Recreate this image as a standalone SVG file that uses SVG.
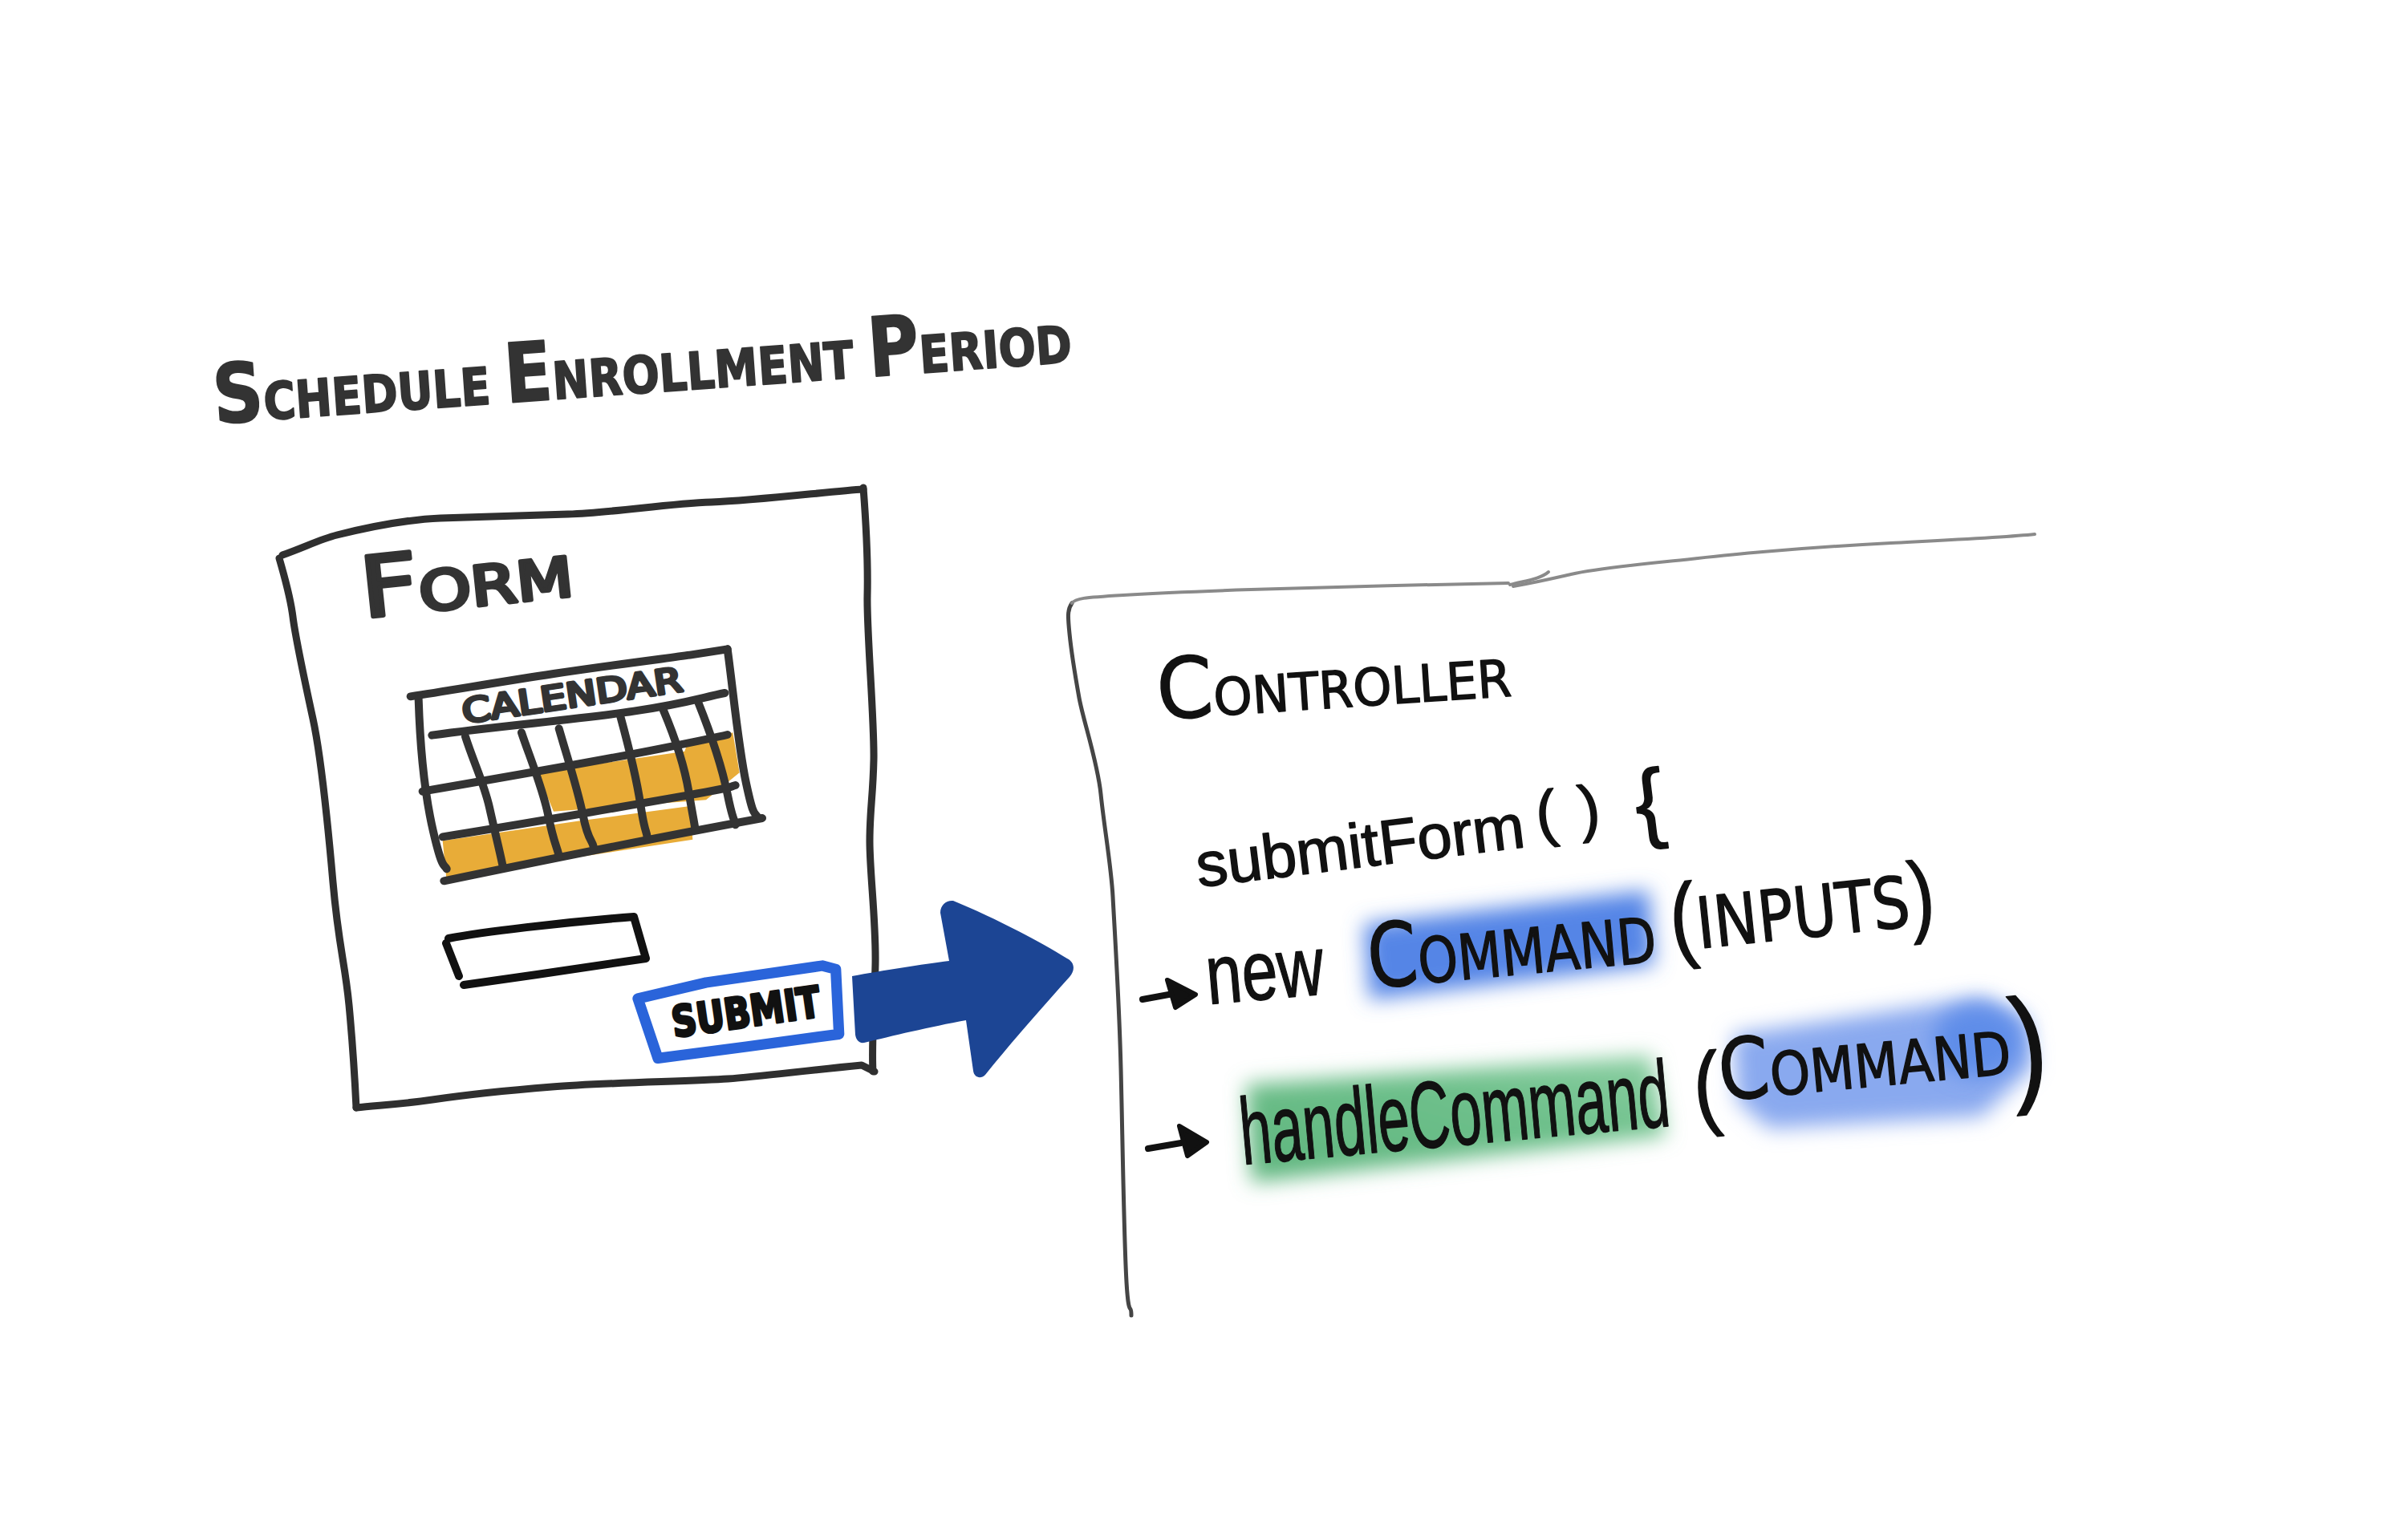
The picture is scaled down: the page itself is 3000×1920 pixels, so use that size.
<svg xmlns="http://www.w3.org/2000/svg" width="3000" height="1920" viewBox="0 0 3000 1920">
  <style>
    .ink { fill: none; stroke: #2f2f2f; stroke-width: 9; stroke-linecap: round; stroke-linejoin: round; }
    .blk { fill: none; stroke: #111; stroke-width: 10; stroke-linecap: round; stroke-linejoin: round; }
    .cal { fill: none; stroke: #333; stroke-width: 30; stroke-linecap: round; stroke-linejoin: round; }
    .pencil { fill: none; stroke: #8a8a8a; stroke-width: 4; stroke-linecap: round; stroke-linejoin: round; }
    .edge { fill: none; stroke: #454545; stroke-width: 5; stroke-linecap: round; stroke-linejoin: round; }
    .caps { font-family: "DejaVu Sans", "Liberation Sans", sans-serif; font-weight: 700; fill: #333; stroke: #333; stroke-width: 2; stroke-linejoin: round; }
    .pen { font-family: "DejaVu Sans", "Liberation Sans", sans-serif; font-weight: 400; fill: #111; stroke: #111; stroke-width: 1.5; stroke-linejoin: round; }
    .hand { font-family: "Liberation Sans", Arial, sans-serif; font-weight: 400; fill: #111; stroke: #111; stroke-width: 1.5; stroke-linejoin: round; }
    .paren { font-family: "Liberation Sans", Arial, sans-serif; font-weight: 400; }
    .orange { fill: #e8ac38; }
    .glow { filter: url(#soft); }
  </style>
  <defs>
    <filter id="soft" x="-30%" y="-60%" width="160%" height="220%">
      <feGaussianBlur stdDeviation="13"/>
    </filter>
    <linearGradient id="greenFill" x1="0" y1="1" x2="1" y2="0">
      <stop offset="0" stop-color="#5fb57e"/>
      <stop offset="0.6" stop-color="#6ec08b"/>
      <stop offset="1" stop-color="#8ccfa3"/>
    </linearGradient>
  </defs>

  <rect x="0" y="0" width="3000" height="1920" fill="#ffffff"/>

  <!-- heading -->
  <g id="title">
    <text class="caps" font-size="64" transform="translate(268,528) rotate(-4.1)" textLength="1072" lengthAdjust="spacingAndGlyphs"><tspan font-size="102">S</tspan>CHEDULE <tspan font-size="102">E</tspan>NROLLMENT <tspan font-size="102">P</tspan>ERIOD</text>
  </g>

  <!-- form sketch -->
  <g id="form">
    <path class="ink" d="M352,692 C380,682 400,672 420,667 S500,648 549,646 S650,643 708,641 S830,628 887,626 S1040,612 1076,610"/>
    <path class="ink" d="M1076,608 C1080,660 1082,700 1081,743 S1090,900 1089,947 S1084,1010 1084,1049 S1092,1150 1091,1202 S1086,1300 1088,1336"/>
    <path class="ink" d="M1090,1336 L1074,1328 C1000,1335 950,1342 907,1345 S750,1350 688,1355 S580,1365 539,1371 S470,1378 444,1381"/>
    <path class="ink" d="M348,696 C355,720 362,745 365,769 S380,850 390,896 S408,1020 415,1100 S430,1200 435,1253 S442,1340 444,1381"/>
    <text class="caps" font-size="68" transform="translate(453,770) rotate(-6)" textLength="265" lengthAdjust="spacingAndGlyphs" style="font-weight:400;stroke-width:5"><tspan font-size="104">F</tspan>ORM</text>

    <!-- calendar widget -->
    <g id="calendar" transform="translate(490,790) scale(0.33333)">
      <path class="orange" d="M540,522 L700,497 L1090,440 L1100,410 L1270,370 L1295,520 L1170,622 L600,665 Z"/>
      <path class="orange" d="M185,775 L700,700 L1110,645 L1120,770 L600,850 L200,925 Z"/>
      <path class="cal" d="M65,235 C200,215 400,180 600,150 S1000,95 1110,80 L1250,58"/>
      <path class="cal" d="M1250,58 C1270,200 1290,420 1320,560 S1350,660 1365,690"/>
      <path class="cal" d="M1380,690 C1000,760 600,840 190,925"/>
      <path class="cal" d="M95,245 C100,400 115,590 150,740 S190,860 200,880"/>
      <path class="cal" d="M145,380 C400,345 700,320 900,290 S1150,240 1240,222"/>
      <path class="cal" d="M110,590 C400,540 800,470 1000,430 S1200,390 1250,378"/>
      <path class="cal" d="M185,760 C500,710 900,640 1100,605 S1250,575 1280,567"/>
      <path class="cal" d="M270,385 C300,480 340,560 360,650 S400,820 410,870"/>
      <path class="cal" d="M480,370 C510,460 560,580 580,680 S610,790 620,830"/>
      <path class="cal" d="M620,355 C650,460 690,580 710,680 S745,770 750,800"/>
      <path class="cal" d="M850,310 C880,420 910,540 925,640 S945,730 950,760"/>
      <path class="cal" d="M1010,285 C1050,380 1090,500 1105,590 S1125,700 1130,735"/>
      <path class="cal" d="M1140,255 C1190,380 1230,500 1250,600 S1275,690 1280,715"/>
      <text class="caps" font-size="126" transform="translate(265,335) rotate(-8.4)" textLength="830" lengthAdjust="spacingAndGlyphs" style="font-weight:400;stroke-width:12">CALENDAR</text>
    </g>

    <!-- text input -->
    <path class="blk" d="M556,1176 L572,1217 M578,1228 C650,1218 750,1203 805,1195 L790,1143 C700,1150 600,1162 559,1170"/>

    <!-- submit button -->
    <g id="submit" transform="translate(780,1130) scale(0.33333)">
      <path d="M45,345 L300,285 L735,222 L785,235 L797,478 L450,525 L120,568 Z" fill="#ffffff" stroke="#2a64da" stroke-width="40" stroke-linejoin="round"/>
      <text class="caps" font-size="160" transform="translate(180,490) rotate(-8.2)" textLength="560" lengthAdjust="spacingAndGlyphs" style="fill:#111;stroke:#111;stroke-width:10">SUBMIT</text>
    </g>
  </g>

  <!-- controller sketch -->
  <g id="controller">
    <path class="edge" d="M1336,752 C1330,760 1331,770 1333,790 S1340,842 1345,870 S1368,950 1372,990 S1385,1080 1387,1118 S1395,1250 1397,1332 S1400,1500 1403,1577 S1410,1620 1410,1640"/>
    <path class="pencil" d="M1336,752 C1340,746 1350,745 1400,742 S1500,737 1559,735 S1800,728 1880,727"/>
    <path class="pencil" d="M1882,729 C1900,724 1920,722 1930,713"/>
    <path class="pencil" d="M1886,731 C1920,725 1940,720 1958,716 S2030,705 2078,700 S2150,692 2197,688 S2300,680 2357,677 S2500,670 2536,666"/>

    <text class="pen" font-size="64" transform="translate(1444,897) rotate(-3.8)" textLength="442" lengthAdjust="spacingAndGlyphs"><tspan font-size="105">C</tspan>ONTROLLER</text>

    <text class="hand" font-size="78" transform="translate(1494,1106) rotate(-7)"><tspan>submitForm</tspan><tspan x="428" dy="-12">(</tspan><tspan x="482">) </tspan><tspan x="552" dy="12" font-size="110">{</tspan></text>

    <!-- highlights -->
    <path class="glow" fill="#5585e6" d="M1700,1152 L2055,1110 L2062,1203 L1707,1246 Z"/>
    <path class="glow" fill="url(#greenFill)" d="M1553,1352 L2058,1316 L2076,1416 L1560,1474 Z"/>
    <path class="glow" fill="#89a9ef" d="M2160,1290 L2470,1243 L2527,1270 L2534,1330 L2470,1392 L2205,1407 L2165,1372 Z"/>
    <ellipse class="glow" fill="#5e8de9" cx="2465" cy="1298" rx="55" ry="45"/>

    <!-- bullet arrows -->
    <path d="M1424,1246 L1462,1239" fill="none" stroke="#111" stroke-width="8" stroke-linecap="round"/>
    <path d="M1455,1222 L1490,1240 L1465,1256 Z" fill="#111" stroke="#111" stroke-width="6" stroke-linejoin="round"/>
    <path d="M1431,1432 L1472,1425" fill="none" stroke="#111" stroke-width="8" stroke-linecap="round"/>
    <path d="M1470,1404 L1504,1424 L1480,1441 Z" fill="#111" stroke="#111" stroke-width="6" stroke-linejoin="round"/>

    <text class="hand" font-size="105" transform="translate(1506,1252) rotate(-5)" textLength="147" lengthAdjust="spacingAndGlyphs">new</text>
    <text class="pen" font-size="78" transform="translate(1708,1232) rotate(-5.3)" textLength="360" lengthAdjust="spacingAndGlyphs"><tspan font-size="110">C</tspan>OMMAND</text>
    <text class="pen" font-size="88" transform="translate(2085,1186) rotate(-6)" textLength="331" lengthAdjust="spacingAndGlyphs"><tspan class="paren" font-size="118">(</tspan>INPUTS<tspan class="paren" font-size="113">)</tspan></text>

    <text class="hand" font-size="118" transform="translate(1549,1452) rotate(-5.2)" textLength="537" lengthAdjust="spacingAndGlyphs">handleCommand</text>
    <text class="pen" font-size="74" transform="translate(2114,1395) rotate(-5.3)" textLength="444" lengthAdjust="spacingAndGlyphs"><tspan class="paren" font-size="116">(</tspan><tspan font-size="105" dy="-20">C</tspan>OMMAND<tspan class="paren" font-size="160" dy="20">)</tspan></text>
  </g>

  <!-- form submits to controller -->
  <g id="connectors">
    <path fill="#1c4594" d="M1062,1217 C1100,1210 1150,1202 1183,1198 L1172,1138 C1172,1128 1180,1122 1188,1123 C1230,1140 1290,1170 1330,1195 C1340,1200 1340,1210 1333,1218 C1300,1255 1260,1300 1228,1340 C1222,1346 1214,1343 1213,1335 L1204,1272 C1160,1280 1110,1292 1077,1300 C1070,1301 1067,1296 1066,1290 Z"/>
  </g>
</svg>
